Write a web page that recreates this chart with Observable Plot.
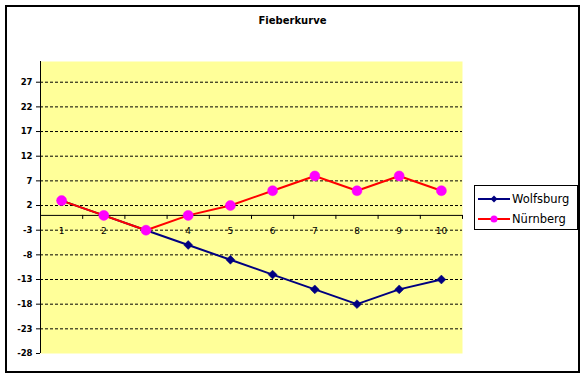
<!DOCTYPE html>
<html>
<head>
<meta charset="utf-8">
<script src="https://cdn.jsdelivr.net/npm/d3@7"></script>
<script src="https://cdn.jsdelivr.net/npm/@observablehq/plot@0.6"></script>
<style>
  html, body { margin: 0; padding: 0; background: #fff; }
  #wrap { position: relative; width: 585px; height: 378px; overflow: hidden; font-family: "DejaVu Sans", sans-serif; }
  #chart { position: absolute; left: 0; top: 0; }
  #border { position: absolute; left: 5px; top: 5px; width: 575px; height: 368px; border: 2px solid #000; box-sizing: border-box; pointer-events: none; }
  #title { position: absolute; left: 0; width: 585px; top: 15px; text-align: center; font-size: 10px; font-weight: bold; color: #000; }
  #legend { position: absolute; left: 474px; top: 185px; width: 104px; height: 45px; border: 1px solid #000; box-sizing: border-box; background: #fff; }
  .row { position: absolute; left: 3px; height: 16px; display: flex; align-items: center; font-size: 11.5px; color: #000; }
  .row svg { display: block; margin-right: 2px; }
</style>
</head>
<body>
<div id="wrap">
  <div id="chart"></div>
  <div id="border"></div>
  <div id="title"></div>
  <div id="legend"></div>
</div>
<script>
// ---- data ----
const categories = [1, 2, 3, 4, 5, 6, 7, 8, 9, 10];
const wolfsburg = [3, 0, -3, -6, -9, -12, -15, -18, -15, -13];
const nuernberg = [3, 0, -3, 0, 2, 5, 8, 5, 8, 5];
const seriesNames = ["Wolfsburg", "Nürnberg"];
const yTicks = [-28, -23, -18, -13, -8, -3, 2, 7, 12, 17, 22, 27];
const titleText = "Fieberkurve";

// ---- build tables ----
const wData = categories.map((c, i) => ({cat: c, value: wolfsburg[i]}));
const nData = categories.map((c, i) => ({cat: c, value: nuernberg[i]}));
const gridTicks = yTicks.filter(t => t > yTicks[0]);
const boundaries = categories.map(c => c - 0.5).concat([categories[categories.length - 1] + 0.5]);

const navy = "#000080";
const red = "#FF0000";
const magenta = "#FF00FF";

const chart = Plot.plot({
  width: 585,
  height: 378,
  marginLeft: 40,
  marginRight: 123,
  marginTop: 61,
  marginBottom: 25,
  x: {type: "linear", domain: [0.5, 10.5], axis: null},
  y: {domain: [-28, 31.2], axis: null},
  style: {background: "transparent", fontFamily: "DejaVu Sans, sans-serif", color: "#000"},
  marks: [
    Plot.frame({fill: "#FFFF99", stroke: "none"}),
    Plot.ruleY(gridTicks, {stroke: "#000", strokeWidth: 1, strokeDasharray: "3,2"}),
    Plot.ruleY([0], {stroke: "#000", strokeWidth: 1}),
    Plot.ruleX(boundaries, {x: d => d, y1: 0, y2: 0, insetBottom: -4, stroke: "#000"}),
    Plot.ruleX([0.5], {stroke: "#000", strokeWidth: 1}),
    Plot.axisY({ticks: yTicks, label: null, tickSize: 4, tickPadding: 4, fontWeight: "bold", fontSize: 8.5, tickFormat: d => String(d), stroke: "#000"}),
    Plot.text(categories, {x: d => d, y: 0, dy: 16, text: d => String(d), fontSize: 9, fill: "#000"}),
    Plot.line(wData, {x: "cat", y: "value", stroke: navy, strokeWidth: 2}),
    Plot.dot(wData, {x: "cat", y: "value", symbol: "diamond2", r: 4, fill: navy, stroke: navy, strokeWidth: 0.5}),
    Plot.line(nData, {x: "cat", y: "value", stroke: red, strokeWidth: 2}),
    Plot.dot(nData, {x: "cat", y: "value", r: 5, fill: magenta, stroke: magenta, strokeWidth: 0.5})
  ]
});
document.getElementById("chart").appendChild(chart);

document.getElementById("title").textContent = titleText;

const legend = document.getElementById("legend");
const styles = [
  {line: navy, marker: navy, shape: "diamond"},
  {line: red, marker: magenta, shape: "circle"}
];
seriesNames.forEach((name, i) => {
  const row = document.createElement("div");
  row.className = "row";
  row.style.top = (5 + i * 20) + "px";
  const s = styles[i];
  const markerSvg = s.shape === "diamond"
    ? `<path d="M16,2.5 L19.5,6 L16,9.5 L12.5,6 Z" fill="${s.marker}"/>`
    : `<circle cx="16" cy="6" r="3.5" fill="${s.marker}"/>`;
  row.innerHTML = `<svg width="32" height="12"><line x1="0" y1="6" x2="32" y2="6" stroke="${s.line}" stroke-width="2"/>${markerSvg}</svg><span>${name}</span>`;
  legend.appendChild(row);
});
</script>
</body>
</html>
